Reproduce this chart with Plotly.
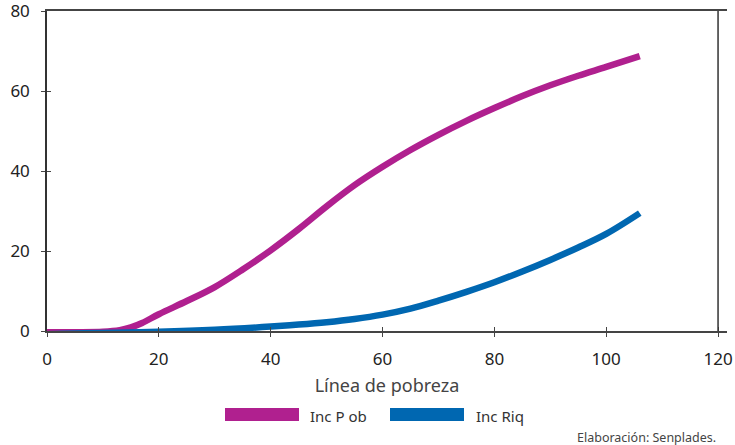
import plotly.graph_objects as go

# Data
x_pob = [0, 5, 10, 13, 15, 17, 20, 25, 30, 35, 40, 45, 50, 55, 60, 65, 70, 75, 80, 85, 90, 95, 100, 106]
inc_pob = [-0.3, -0.3, -0.2, 0.2, 0.9, 2.0, 4.2, 7.5, 11.0, 15.4, 20.2, 25.5, 31.2, 36.5, 41.1, 45.3,
           49.1, 52.6, 55.8, 58.8, 61.5, 63.9, 66.1, 68.8]

x_riq = [0, 5, 10, 20, 30, 40, 45, 50, 55, 60, 65, 70, 75, 80, 85, 90, 95, 100, 106]
inc_riq = [-0.8, -0.6, -0.5, -0.2, 0.3, 1.1, 1.6, 2.2, 3.0, 4.1, 5.6, 7.6, 9.8, 12.2, 14.9,
           17.8, 20.9, 24.3, 29.5]

x_ticks = [0, 20, 40, 60, 80, 100, 120]
y_ticks = [0, 20, 40, 60, 80]
series_names = ["Inc P ob", "Inc Riq"]
colors = ["#b0208f", "#0067b1"]

FONT = "Noto Sans"

fig = go.Figure()
fig.add_trace(go.Scatter(x=x_pob, y=inc_pob, mode="lines", name=series_names[0],
                         line=dict(color=colors[0], width=6.5, shape="spline", smoothing=1.0),
                         showlegend=False))
fig.add_trace(go.Scatter(x=x_riq, y=inc_riq, mode="lines", name=series_names[1],
                         line=dict(color=colors[1], width=6.5, shape="spline", smoothing=1.0),
                         showlegend=False))
# dummy trace to activate the overlay axes (inside half of crossing ticks)
fig.add_trace(go.Scatter(x=[None], y=[None], xaxis="x2", yaxis="y2", showlegend=False,
                         hoverinfo="skip"))

axis_font = dict(family=FONT, size=17, color="#222222")
YR = [0, 80.1]
XR = [0, 121.6]

fig.update_layout(
    width=735, height=445,
    margin=dict(l=47, r=8, t=11, b=114, autoexpand=False),
    paper_bgcolor="white", plot_bgcolor="white",
    xaxis=dict(range=XR, tickvals=x_ticks, ticktext=[str(v) for v in x_ticks],
               showgrid=False, zeroline=False, showline=True, linecolor="#444444",
               linewidth=1.5, mirror=True, ticks="outside", ticklen=4, tickwidth=1.2,
               tickcolor="#444444", tickfont=axis_font, ticklabelstandoff=8, automargin=False,
               ticklabeloverflow="allow",
               title=dict(text="Línea de pobreza", font=dict(family=FONT, size=18, color="#444444"),
                          standoff=10)),
    yaxis=dict(range=YR, tickvals=y_ticks, ticktext=[str(v) for v in y_ticks],
               showgrid=False, zeroline=False, showline=True, linecolor="#333333",
               linewidth=1.5, ticks="outside", ticklen=4, tickwidth=1.2, automargin=False,
               tickcolor="#444444", tickfont=axis_font, ticklabelstandoff=8,
               ticklabeloverflow="allow"),
    xaxis2=dict(overlaying="x", matches="x", range=XR, tickvals=x_ticks,
                showticklabels=False, showgrid=False, zeroline=False, showline=False,
                ticks="inside", ticklen=4, tickwidth=1.2, tickcolor="#444444", automargin=False),
    yaxis2=dict(overlaying="y", matches="y", range=YR, tickvals=y_ticks,
                showticklabels=False, showgrid=False, zeroline=False, showline=False,
                ticks="inside", ticklen=4, tickwidth=1.2, tickcolor="#444444", automargin=False),
)

# right frame line at x = 120
fig.add_shape(type="line", xref="x", yref="paper", x0=x_ticks[-1], x1=x_ticks[-1], y0=0, y1=1,
              line=dict(color="#333333", width=1.5))

# manual legend (thick swatches)
PH = 445 - 11 - 114
legend_items = [(225, 299, 308), (390, 464, 474)]
for (x0, x1, xt), name, col in zip(legend_items, series_names, colors):
    fig.add_shape(type="rect", xref="paper", yref="paper",
                  x0=(x0 - 47) / 680, x1=(x1 - 47) / 680,
                  y0=(331 - 421) / PH, y1=(331 - 408) / PH,
                  fillcolor=col, line=dict(width=0))
    fig.add_annotation(text=name, xref="paper", yref="paper",
                       x=(xt - 47) / 680, y=(331 - 416) / PH,
                       xanchor="left", yanchor="middle", showarrow=False,
                       font=dict(family=FONT, size=15, color="#333333"))

fig.add_annotation(text="Elaboración: Senplades.", xref="paper", yref="paper",
                   x=(718 - 47) / 680, y=(331 - 437) / PH, xanchor="right", yanchor="middle",
                   showarrow=False, font=dict(family=FONT, size=12.5, color="#444444"))

fig.write_html("out.html", post_script="document.body.style.margin='0';",
               config={"displayModeBar": False})
